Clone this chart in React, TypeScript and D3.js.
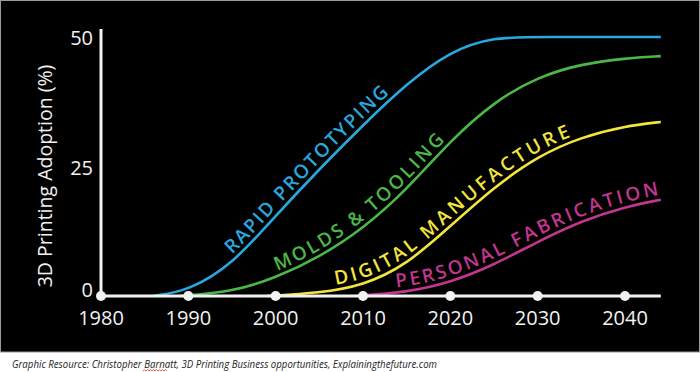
import React, { useEffect, useRef } from 'react';
import * as d3 from 'd3';

// years on the x axis, values in % adoption
const decades = [1980, 1990, 2000, 2010, 2020, 2030, 2040];
const yTicks = [0, 25, 50];

const rapidYears = [1986, 1990, 1995, 2000, 2005, 2010, 2015, 2020, 2025, 2030, 2044.1];
const rapidVals = [0, 1, 6, 15.5, 24.5, 33, 41, 47.3, 50, 50, 50];

const moldsYears = [1989, 1995, 2000, 2005, 2010, 2015, 2020, 2025, 2030, 2035, 2040, 2044.1];
const moldsVals = [0, 0.8, 3.5, 7.5, 13, 20.5, 30, 37.5, 42.3, 44.8, 45.9, 46.3];

const digitalYears = [1999, 2005, 2010, 2015, 2020, 2025, 2030, 2035, 2040, 2044.1];
const digitalVals = [0, 0.6, 2, 6, 13.5, 21, 27, 30.7, 32.8, 33.6];

const personalYears = [2009, 2015, 2020, 2025, 2030, 2035, 2040, 2044.1];
const personalVals = [0, 0.7, 2.6, 6, 10.5, 14.5, 17.2, 18.6];

const seriesNames = ['RAPID PROTOTYPING', 'MOLDS & TOOLING', 'DIGITAL MANUFACTURE', 'PERSONAL FABRICATION'];
const seriesColors = ['#29a8df', '#4cb748', '#f3e53c', '#c1368e'];
const labelFrom = [1995.4, 2000.4, 2007, 2013.9];
const labelTo = [2013.4, 2019.8, 2034, 2044];

const App = () => {
    const ref = useRef<SVGSVGElement>(null);

    useEffect(() => {
        const svg = d3.select(ref.current);
        svg.selectAll('*').remove();

        const x = d3.scaleLinear().domain([1980, 2040]).range([101, 625]);
        const y = d3.scaleLinear().domain([0, 50]).range([296, 37]);
        const font = '"Open Sans", sans-serif';

        svg.append('rect')
            .attr('x', 0.5).attr('y', 0.5)
            .attr('width', 699).attr('height', 351.5)
            .attr('fill', '#000')
            .attr('stroke', '#9a9a9a');

        const series = [
            d3.zip(rapidYears, rapidVals),
            d3.zip(moldsYears, moldsVals),
            d3.zip(digitalYears, digitalVals),
            d3.zip(personalYears, personalVals),
        ];

        const line = d3.line<number[]>()
            .x(d => x(d[0]))
            .y(d => y(d[1]))
            .curve(d3.curveBasis);

        // axes
        svg.append('line')
            .attr('x1', x(1980)).attr('x2', x(1980))
            .attr('y1', y(0)).attr('y2', y(50) - 8)
            .attr('stroke', '#f2f2f2').attr('stroke-width', 3);

        series.forEach((s, i) => {
            const p = svg.append('path')
                .attr('id', 'curve' + i)
                .attr('d', line(s))
                .attr('fill', 'none')
                .attr('stroke', seriesColors[i])
                .attr('stroke-width', 2.6);

            const node = p.node() as SVGPathElement;
            const total = node.getTotalLength();
            const lenAt = (px: number) => {
                let lo = 0, hi = total;
                for (let k = 0; k < 40; k++) {
                    const mid = (lo + hi) / 2;
                    if (node.getPointAtLength(mid).x < px) lo = mid; else hi = mid;
                }
                return lo;
            };
            const a = lenAt(x(labelFrom[i]));
            const b = lenAt(x(labelTo[i]));

            svg.append('text')
                .attr('font-family', font)
                .attr('font-weight', 600)
                .attr('font-size', 19)
                .attr('fill', seriesColors[i])
                .attr('dy', -5)
                .append('textPath')
                .attr('href', '#curve' + i)
                .attr('startOffset', a)
                .attr('textLength', b - a)
                .attr('lengthAdjust', 'spacing')
                .text(seriesNames[i]);
        });

        svg.append('line')
            .attr('x1', x(1980)).attr('x2', x(2044.1))
            .attr('y1', y(0)).attr('y2', y(0))
            .attr('stroke', '#f2f2f2').attr('stroke-width', 3);

        svg.selectAll('circle.tick')
            .data(decades)
            .join('circle')
            .attr('cx', d => x(d))
            .attr('cy', y(0))
            .attr('r', 5)
            .attr('fill', '#f2f2f2');

        svg.selectAll('text.xt')
            .data(decades)
            .join('text')
            .attr('x', d => x(d))
            .attr('y', y(0) + 29)
            .attr('text-anchor', 'middle')
            .attr('font-family', font)
            .attr('font-size', 20)
            .attr('fill', '#f2f2f2')
            .text(d => d);

        svg.selectAll('text.yt')
            .data(yTicks)
            .join('text')
            .attr('x', x(1980) - 8)
            .attr('y', d => Math.min(y(d) + 8, y(0) + 1))
            .attr('text-anchor', 'end')
            .attr('font-family', font)
            .attr('font-size', 20)
            .attr('fill', '#f2f2f2')
            .text(d => d);

        svg.append('text')
            .attr('transform', `translate(52,${(y(0) + 56) / 2}) rotate(-90)`)
            .attr('text-anchor', 'middle')
            .attr('font-family', font)
            .attr('font-size', 19.5)
            .attr('fill', '#f2f2f2')
            .text('3D Printing Adoption (%)');

        // source line under the picture
        svg.append('text')
            .attr('x', 12).attr('y', 367.5)
            .attr('font-family', font)
            .attr('font-style', 'italic')
            .attr('font-size', 10)
            .attr('fill', '#222')
            .attr('textLength', 425)
            .attr('lengthAdjust', 'spacingAndGlyphs')
            .text('Graphic Resource: Christopher Barnatt, 3D Printing Business opportunities, Explainingthefuture.com');

        const squiggle = d3.range(143, 168.5, 1.5).map((px, k) => [px, k % 2 ? 369.5 : 371]);
        svg.append('path')
            .attr('d', d3.line()(squiggle as [number, number][]))
            .attr('fill', 'none')
            .attr('stroke', '#e03030')
            .attr('stroke-width', 0.8);
    }, []);

    return (
        <svg ref={ref} width={700} height={372}
            style={{ position: 'absolute', left: 0, top: 0, background: '#fff' }} />
    );
};

export default App;
